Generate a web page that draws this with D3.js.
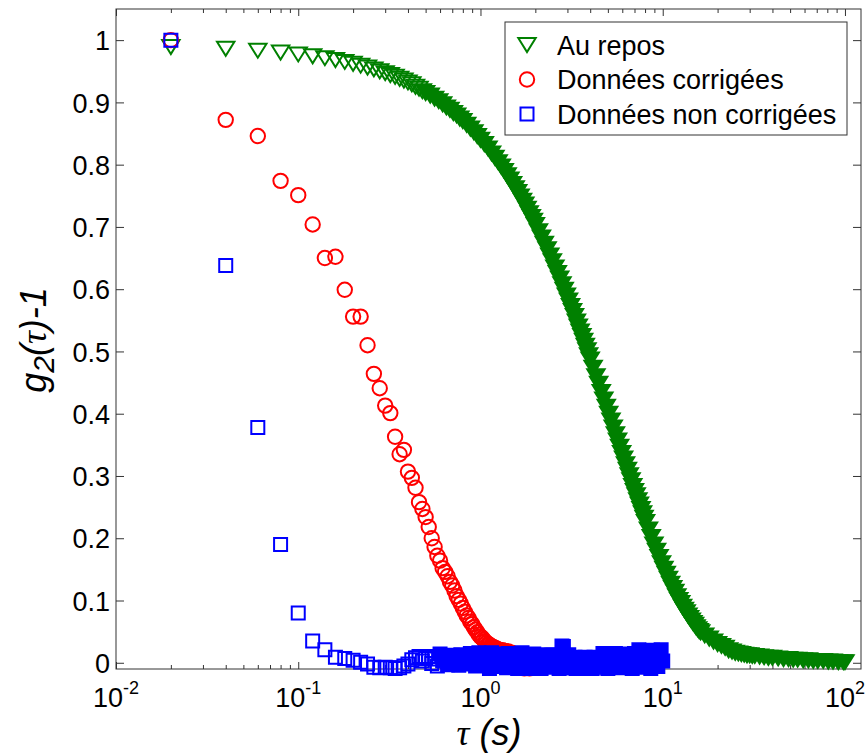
<!DOCTYPE html>
<html><head><meta charset="utf-8">
<script src="https://cdn.jsdelivr.net/npm/d3@7"></script>
<style>
body{margin:0;background:#fff}
svg{display:block}
text{font-family:"Liberation Sans",Arial,sans-serif;fill:#000}
</style>
</head><body>
<svg id="chart" width="865" height="754"></svg>
<script>
// ---------------- data ----------------
const seriesNames = ["Au repos", "Données corrigées", "Données non corrigées"];

const reposTau = [
0.02,0.04,0.06,0.08,0.10,0.12,0.14,0.16,0.18,0.20,0.22,0.24,0.26,0.28,0.30,
0.32,0.34,0.36,0.38,0.40,0.42,0.44,0.46,0.48,0.50,
0.53,0.56,0.59,0.62,0.65,0.68,0.71,0.74,0.77,0.80,
0.84,0.88,0.92,0.96,1.00,
1.05,1.10,1.15,1.20,1.25,1.30,1.35,1.40,1.45,1.50,1.55,1.60,1.65,1.70,1.75,1.80,1.85,1.90,1.95,2.00,
2.08,2.16,2.24,2.32,2.40,2.48,2.56,2.64,2.72,2.80,2.88,2.96,3.04,3.12,3.20,3.28,3.36,3.44,3.52,3.60,3.68,3.76,3.84,3.92,4.00,
4.15,4.30,4.45,4.60,4.75,4.90,5.05,5.20,5.35,5.50,5.65,5.80,5.95,6.10,6.25,6.40,6.55,6.70,6.85,7.00,7.15,7.30,7.45,7.60,7.75,7.90,8.05,
8.35,8.65,8.95,9.25,9.55,9.85,10.15,10.45,10.75,11.05,11.35,11.65,11.95,12.25,12.55,12.85,13.15,13.45,13.75,14.05,14.35,14.65,14.95,15.25,15.55,15.85,16.15,
17,18,19,20,21,22,23,24,25,26,27,28,29,30,31,32,
34,36,38,40,43,46,49,52,55,59,63,67,71,76,81,86,92,98,100];
const reposVal = [
0.989,0.986,0.983,0.980,0.977,0.974,0.971,0.968,0.965,0.962,0.959,0.956,0.953,0.950,0.947,
0.944,0.941,0.938,0.935,0.932,0.929,0.925,0.922,0.918,0.915,
0.911,0.906,0.902,0.897,0.892,0.888,0.883,0.879,0.874,0.870,
0.864,0.858,0.852,0.846,0.840,
0.833,0.826,0.818,0.811,0.804,0.797,0.790,0.783,0.776,0.769,0.762,0.756,0.749,0.742,0.736,0.729,0.722,0.716,0.710,0.703,
0.693,0.683,0.673,0.664,0.654,0.645,0.635,0.626,0.617,0.608,0.599,0.590,0.582,0.573,0.565,0.557,0.548,0.540,0.532,0.525,0.517,0.509,0.502,0.494,0.487,
0.474,0.460,0.448,0.435,0.423,0.411,0.400,0.389,0.378,0.367,0.357,0.347,0.337,0.328,0.319,0.310,0.301,0.293,0.284,0.276,0.269,0.261,0.254,0.247,0.240,0.233,0.226,
0.214,0.202,0.190,0.180,0.170,0.160,0.151,0.143,0.135,0.127,0.120,0.114,0.107,0.101,0.096,0.090,0.085,0.081,0.076,0.072,0.068,0.064,0.061,0.057,0.054,0.051,0.049,
0.044,0.039,0.034,0.030,0.027,0.024,0.020,0.018,0.016,0.015,0.014,0.013,0.012,0.012,0.011,0.011,
0.010,0.009,0.008,0.008,0.007,0.006,0.006,0.005,0.005,0.004,0.004,0.003,0.003,0.003,0.002,0.002,0.001,0.001,0.001];

const corrTau = [
0.02,0.04,0.06,0.08,0.10,0.12,0.14,0.16,0.18,0.20,
0.22,0.24,0.26,0.28,0.30,0.32,0.34,0.36,0.38,0.40,
0.42,0.44,0.46,0.48,0.50,0.52,0.54,0.56,0.58,0.60,
0.62,0.64,0.66,0.68,0.70,0.72,0.74,0.76,0.78,0.80,
0.82,0.84,0.86,0.88,0.90,0.92,0.94,0.96,0.98,1.00,
1.02,1.04,1.06,1.08,1.10,1.12,1.14,1.16,1.18,1.20,
1.22,1.24,1.26,1.28,1.30,1.32,1.34,1.36,1.38,1.40,
1.42,1.44,1.46,1.48,1.50,1.52,1.54,1.56,1.58,1.60,
1.62,1.64,1.66,1.68,1.70,1.72,1.74,1.76,1.78,1.80,
1.82,1.84,1.86,1.88,1.90,1.92,1.94,1.96,1.98,2.00];
const corrVal = [
1.000,0.872,0.846,0.774,0.751,0.704,0.650,0.652,0.599,0.556,
0.556,0.510,0.464,0.441,0.413,0.401,0.363,0.335,0.342,0.307,
0.297,0.281,0.258,0.247,0.234,0.218,0.200,0.186,0.172,0.164,
0.152,0.146,0.139,0.130,0.124,0.116,0.107,0.101,0.095,0.088,
0.082,0.076,0.072,0.066,0.062,0.057,0.053,0.049,0.045,0.042,
0.040,0.037,0.034,0.032,0.030,0.029,0.027,0.026,0.025,0.024,
0.023,0.022,0.021,0.020,0.019,0.020,0.018,0.019,0.017,0.018,
0.018,0.016,0.015,0.016,0.014,0.012,0.009,0.005,0.002,-0.002,
-0.004,-0.006,-0.007,-0.008,-0.006,-0.008,-0.009,-0.007,-0.008,-0.006,
-0.008,-0.007,-0.009,-0.006,-0.008,-0.004,-0.002,0.001,0.003,0.002];

const nonCorrTau = [
0.02,0.04,0.06,0.08,0.10,0.12,0.14,0.16,0.18,0.20,0.22,0.24,0.26,0.28,0.30,0.32,0.34,0.36,0.38,0.40,0.42,0.44,0.46,0.48,0.50,
0.52,0.54,0.56,0.58,0.60,0.62,0.64,0.66,0.68,0.70,0.72,0.74,0.76,0.78,0.80,0.82,0.84,0.86,0.88,0.90,0.92,0.94,0.96,0.98,1.00,
1.03,1.06,1.09,1.12,1.15,1.18,1.21,1.24,1.27,1.30,1.33,1.36,1.39,1.42,1.45,1.48,1.51,1.54,1.57,1.60,1.63,1.66,1.69,1.72,1.75,1.78,1.81,1.84,1.87,1.90,1.93,1.96,1.99,
2.00,2.05,2.10,2.15,2.20,2.25,2.30,2.35,2.40,2.45,2.50,2.55,2.60,2.65,2.70,2.75,2.80,2.85,2.90,2.95,3.00,3.05,3.10,3.15,3.20,3.25,3.30,3.35,3.40,3.45,3.50,3.55,3.60,3.65,3.70,3.75,3.80,3.85,3.90,3.95,
4.0,4.1,4.2,4.3,4.4,4.5,4.6,4.7,4.8,4.9,5.0,5.1,5.2,5.3,5.4,5.5,5.6,5.7,5.8,5.9,6.0,
6.2,6.4,6.6,6.8,7.0,7.2,7.4,7.6,7.8,8.0,8.2,8.4,8.6,8.8,9.0,9.2,9.4,9.6,9.8,10.0];
const nonCorrVal = [
1.000,0.638,0.378,0.190,0.080,0.035,0.021,0.009,0.007,0.004,0.001,-0.002,-0.007,-0.008,-0.007,-0.008,-0.009,-0.008,-0.005,-0.002,0.005,0.008,0.010,0.003,0.007,
0.010,-0.001,0.006,-0.005,0.014,0.003,0.009,-0.003,0.005,0.012,0.001,0.008,-0.004,0.013,0.004,0.010,-0.002,0.007,0.015,0.000,0.011,-0.005,0.006,0.016,0.002,
0.012,-0.004,0.007,-0.009,0.016,0.002,0.010,-0.006,0.005,0.014,-0.001,0.009,-0.008,0.015,0.003,0.011,-0.005,0.006,0.013,-0.009,0.008,0.001,0.016,-0.003,0.010,-0.007,0.004,0.012,0.000,0.009,-0.009,0.014,0.005,
0.011,-0.005,0.006,-0.009,0.013,0.002,0.009,-0.007,0.004,0.012,
0.012,-0.004,0.009,0.013,-0.009,0.006,0.027,0.026,-0.006,0.011,0.002,0.013,-0.008,
-0.008,0.006,0.000,0.009,-0.009,0.004,-0.003,0.008,-0.006,0.007,0.001,-0.009,0.009,-0.004,0.005,-0.007,0.008,
0.004,-0.009,0.009,-0.003,0.007,-0.007,0.002,
0.015,-0.006,0.010,-0.009,0.013,0.003,0.008,-0.004,0.015,0.000,0.011,-0.008,0.006,0.014,
-0.005,0.012,0.002,-0.009,0.015,0.005,
0.021,-0.007,0.010,0.018,-0.003,0.014,-0.009,0.020,0.006,0.016,-0.006,0.012,0.021,0.003];

const yTickValues = [0,0.1,0.2,0.3,0.4,0.5,0.6,0.7,0.8,0.9,1];
const xTickExponents = [-2,-1,0,1,2];

// ---------------- layout ----------------
const L = 116, R = 861, T = 9, B = 669;
const svg = d3.select("#chart");
const x = d3.scaleLog().domain([0.01, Math.pow(10, 2.088)]).range([L, R]);
const y = d3.scaleLinear().domain([-0.01, 1.05]).range([B, T]);
const axisColor = "#333";
const FS = 27;

const zip = (a, b) => a.slice(0, Math.min(a.length, b.length)).map((t, i) => ({t, v: b[i]}));

// ---------------- axes ----------------
const xMajor = xTickExponents.map(e => Math.pow(10, e));
const xMinor = [];
xTickExponents.forEach(e => { for (let k = 2; k <= 9; k++) { const v = k * Math.pow(10, e); if (v < x.domain()[1]) xMinor.push(v); } });

function styleAxis(g) {
  g.select(".domain").remove();
  g.selectAll("line").attr("stroke", axisColor).attr("stroke-width", 1);
}
svg.append("g").attr("transform", `translate(0,${B})`).call(d3.axisBottom(x).tickValues(xMajor).tickSize(-7).tickFormat("")).call(styleAxis);
svg.append("g").attr("transform", `translate(0,${B})`).call(d3.axisBottom(x).tickValues(xMinor).tickSize(-4).tickFormat("")).call(styleAxis);
svg.append("g").attr("transform", `translate(0,${T})`).call(d3.axisTop(x).tickValues(xMajor).tickSize(-7).tickFormat("")).call(styleAxis);
svg.append("g").attr("transform", `translate(0,${T})`).call(d3.axisTop(x).tickValues(xMinor).tickSize(-4).tickFormat("")).call(styleAxis);

const fmtY = d => d3.format("~g")(d);
const gl = svg.append("g").attr("transform", `translate(${L},0)`)
  .call(d3.axisLeft(y).tickValues(yTickValues).tickSize(-8).tickPadding(6).tickFormat(fmtY)).call(styleAxis);
gl.selectAll("text").attr("font-size", FS).attr("font-family", "Liberation Sans, Arial, sans-serif").attr("fill", "#000").attr("dy", "0.36em");
svg.append("g").attr("transform", `translate(${R},0)`)
  .call(d3.axisRight(y).tickValues(yTickValues).tickSize(-8).tickFormat("")).call(styleAxis);

// x tick labels with superscripts
const xl = svg.append("g");
xMajor.forEach((v, i) => {
  const t = xl.append("text").attr("x", x(v)).attr("y", 707).attr("text-anchor", "middle").attr("font-size", FS);
  t.append("tspan").text("10");
  t.append("tspan").attr("dy", -13).attr("font-size", 18).text(String(xTickExponents[i]));
});

// frame
svg.append("rect").attr("x", L).attr("y", T).attr("width", R - L).attr("height", B - T)
  .attr("fill", "none").attr("stroke", axisColor).attr("stroke-width", 1);

// ---------------- markers ----------------
const triPath = "M-8.7,-7L8.7,-7L0,7Z";
const sqPath = "M-6.5,-6.5H6.5V6.5H-6.5Z";
const circPath = d3.symbol().type(d3.symbolCircle).size(Math.PI * 7.2 * 7.2)();
const colors = ["#008000", "#ff0000", "#0000ff"];
const shapes = [triPath, circPath, sqPath];
// where the measured points overlap so much that the markers merge into a solid band
const solidFrom = [0.5, Infinity, 0.6];
const datasets = [zip(reposTau, reposVal), zip(corrTau, corrVal), zip(nonCorrTau, nonCorrVal)];

datasets.forEach((data, si) => {
  svg.append("g").selectAll("path").data(data).join("path")
    .attr("d", shapes[si])
    .attr("transform", d => `translate(${x(d.t)},${y(d.v)})`)
    .attr("fill", d => d.t >= solidFrom[si] ? colors[si] : "none")
    .attr("stroke", colors[si]).attr("stroke-width", 2).attr("stroke-linejoin", "miter");
});

// ---------------- legend ----------------
const lg = svg.append("g");
lg.append("rect").attr("x", 505).attr("y", 22).attr("width", 342).attr("height", 113)
  .attr("fill", "#fff").attr("stroke", axisColor).attr("stroke-width", 1);
const rowsY = [45, 79.5, 114];
seriesNames.forEach((name, i) => {
  lg.append("path").attr("d", shapes[i]).attr("transform", `translate(527,${rowsY[i]})`)
    .attr("fill", "none").attr("stroke", colors[i]).attr("stroke-width", 2);
  lg.append("text").attr("x", 557).attr("y", rowsY[i] + 9.5).attr("font-size", FS).text(name);
});

// ---------------- axis titles ----------------
const xt = svg.append("text").attr("x", 489).attr("y", 745).attr("text-anchor", "middle")
  .attr("font-size", 36).attr("font-style", "italic");
xt.append("tspan").attr("font-family", "Liberation Serif, Times New Roman, serif").text("τ");
xt.append("tspan").text(" (s)");

const yt = svg.append("text").attr("transform", "translate(46,340) rotate(-90)").attr("text-anchor", "middle")
  .attr("font-size", 36).attr("font-style", "italic");
yt.append("tspan").text("g");
yt.append("tspan").attr("dy", 8).attr("font-size", 30).text("2");
yt.append("tspan").attr("dy", -8).text("(");
yt.append("tspan").attr("font-family", "Liberation Serif, Times New Roman, serif").text("τ");
yt.append("tspan").text(")-1");
</script>
</body></html>
